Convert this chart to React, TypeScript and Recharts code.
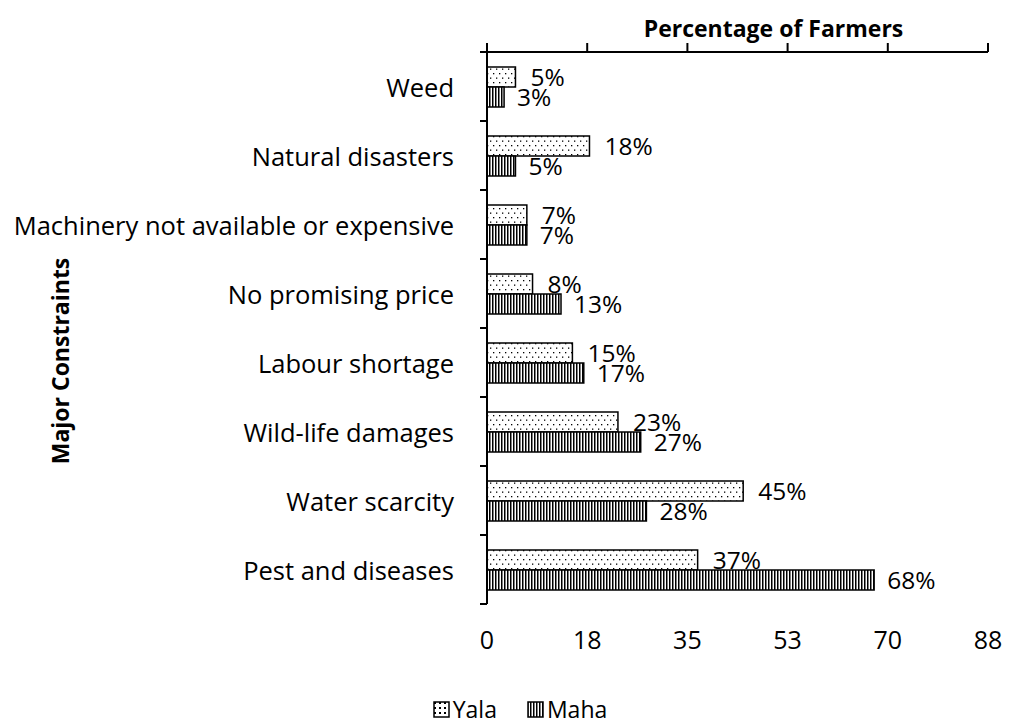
import { BarChart, Bar, XAxis, YAxis, LabelList } from "recharts";

const CATEGORIES = [
  "Weed",
  "Natural disasters",
  "Machinery not available or expensive",
  "No promising price",
  "Labour shortage",
  "Wild-life damages",
  "Water scarcity",
  "Pest and diseases",
];
const YALA = [5, 18, 7, 8, 15, 23, 45, 37];
const MAHA = [3, 5, 7, 13, 17, 27, 28, 68];
const X_TICKS = [0, 17.6, 35.2, 52.8, 70.4, 88];

const data = CATEGORIES.map((name, i) => ({ name, yala: YALA[i], maha: MAHA[i] }));

const FONT = "'Open Sans', sans-serif";
const CAT_TICK_SIZE = 10;
const CAT_TICK_MARGIN = 23;

const NoText = () => <g />;

// category label + tick marks on the band boundaries (Excel style)
function CategoryTick(props: any) {
  const { x, y, payload, index, visibleTicksCount } = props;
  const axisX = x + CAT_TICK_SIZE + CAT_TICK_MARGIN;
  const half = payload.offset ?? 0;
  const isLast = index === visibleTicksCount - 1;
  return (
    <g>
      <text x={x} y={y} textAnchor="end" dominantBaseline="central" style={{ fontFamily: FONT, fontSize: 25.5, fill: "#000" }}>
        {payload.value}
      </text>
      <line x1={axisX - 7} x2={axisX} y1={y - half} y2={y - half} stroke="#000" strokeWidth={2} />
      {isLast && <line x1={axisX - 7} x2={axisX} y1={y + half} y2={y + half} stroke="#000" strokeWidth={2} />}
    </g>
  );
}

function Patterns() {
  return (
    <svg width={0} height={0} style={{ position: "absolute" }}>
      <defs>
        <pattern id="dots" patternUnits="userSpaceOnUse" width={6} height={9}>
          <rect width={6} height={9} fill="#fff" />
          <rect x={1} y={1} width={1.3} height={1.3} fill="#000" />
          <rect x={4} y={5.5} width={1.3} height={1.3} fill="#000" />
        </pattern>
        <pattern id="dotsBig" patternUnits="userSpaceOnUse" width={5} height={5}>
          <rect width={5} height={5} fill="#fff" />
          <rect x={1} y={1} width={2} height={2} fill="#000" />
        </pattern>
        <pattern id="stripes" patternUnits="userSpaceOnUse" width={3} height={6}>
          <rect width={3} height={6} fill="#fff" />
          <rect x={0} y={0} width={1.5} height={6} fill="#000" />
        </pattern>
      </defs>
    </svg>
  );
}

function LegendBox() {
  const items = [
    { label: "Yala", fill: "url(#dotsBig)" },
    { label: "Maha", fill: "url(#stripes)" },
  ];
  return (
    <div
      style={{
        position: "absolute",
        top: 698,
        left: 0,
        width: 1040,
        display: "flex",
        justifyContent: "center",
        gap: 30,
        fontFamily: FONT,
        fontSize: 23,
        lineHeight: "22px",
        color: "#000",
      }}
    >
      {items.map((it) => (
        <div key={it.label} style={{ display: "flex", alignItems: "center", gap: 3 }}>
          <svg width={17} height={17}>
            <rect x={1} y={1} width={15} height={15} fill={it.fill} stroke="#000" strokeWidth={1.5} />
          </svg>
          <span>{it.label}</span>
        </div>
      ))}
    </div>
  );
}

export default function App() {
  return (
    <div style={{ position: "absolute", left: 0, top: 0, width: 1011, height: 725, background: "#fff", overflow: "hidden" }}>
      <Patterns />
      <BarChart
        width={1011}
        height={725}
        data={data}
        layout="vertical"
        margin={{ top: 51, right: 23, bottom: 61, left: 0 }}
        barSize={20}
        barGap={0}
      >
        <XAxis
          xAxisId="top"
          type="number"
          orientation="top"
          domain={[0, 88]}
          ticks={X_TICKS}
          height={1}
          tick={NoText}
          tickSize={9}
          axisLine={{ stroke: "#000", strokeWidth: 2 }}
          tickLine={{ stroke: "#000", strokeWidth: 2 }}
          label={{
            content: (props: any) => {
              const vb = props.viewBox;
              return (
                <text
                  x={vb.x + vb.width / 2 + 36}
                  y={vb.y - 23}
                  textAnchor="middle"
                  dominantBaseline="central"
                  style={{ fontFamily: FONT, fontSize: 23, fontWeight: 700, fill: "#000" }}
                >
                  Percentage of Farmers
                </text>
              );
            },
          }}
        />
        <XAxis
          xAxisId="bottom"
          type="number"
          orientation="bottom"
          domain={[0, 88]}
          ticks={X_TICKS}
          tickFormatter={(v: number) => String(Math.round(v))}
          height={60}
          axisLine={false}
          tickLine={false}
          tickSize={0}
          tickMargin={27}
          tick={{ fontFamily: FONT, fontSize: 25, fill: "#000" }}
        />
        <YAxis
          yAxisId="cat"
          type="category"
          dataKey="name"
          width={487}
          axisLine={{ stroke: "#000", strokeWidth: 2 }}
          tickLine={false}
          tickSize={CAT_TICK_SIZE}
          tickMargin={CAT_TICK_MARGIN}
          interval={0}
          tick={CategoryTick}
          label={{
            content: (props: any) => {
              const vb = props.viewBox;
              const cx = vb.x + 60;
              const cy = vb.y + vb.height / 2 + 33;
              return (
                <text
                  x={cx}
                  y={cy}
                  transform={`rotate(-90, ${cx}, ${cy})`}
                  textAnchor="middle"
                  dominantBaseline="central"
                  style={{ fontFamily: FONT, fontSize: 23, fontWeight: 700, fill: "#000" }}
                >
                  Major Constraints
                </text>
              );
            },
          }}
        />
        <Bar
          dataKey="yala"
          name="Yala"
          xAxisId="top"
          yAxisId="cat"
          fill="url(#dots)"
          stroke="#000"
          strokeWidth={1.5}
          isAnimationActive={false}
        >
          <LabelList
            dataKey="yala"
            position="right"
            offset={15}
            formatter={(v: any) => `${v}%`}
            style={{ fontFamily: FONT, fontSize: 24.5, fill: "#000" }}
          />
        </Bar>
        <Bar
          dataKey="maha"
          name="Maha"
          xAxisId="bottom"
          yAxisId="cat"
          fill="url(#stripes)"
          stroke="#000"
          strokeWidth={1.5}
          isAnimationActive={false}
        >
          <LabelList
            dataKey="maha"
            position="right"
            offset={13}
            formatter={(v: any) => `${v}%`}
            style={{ fontFamily: FONT, fontSize: 24.5, fill: "#000" }}
          />
        </Bar>
      </BarChart>
      <LegendBox />
    </div>
  );
}
